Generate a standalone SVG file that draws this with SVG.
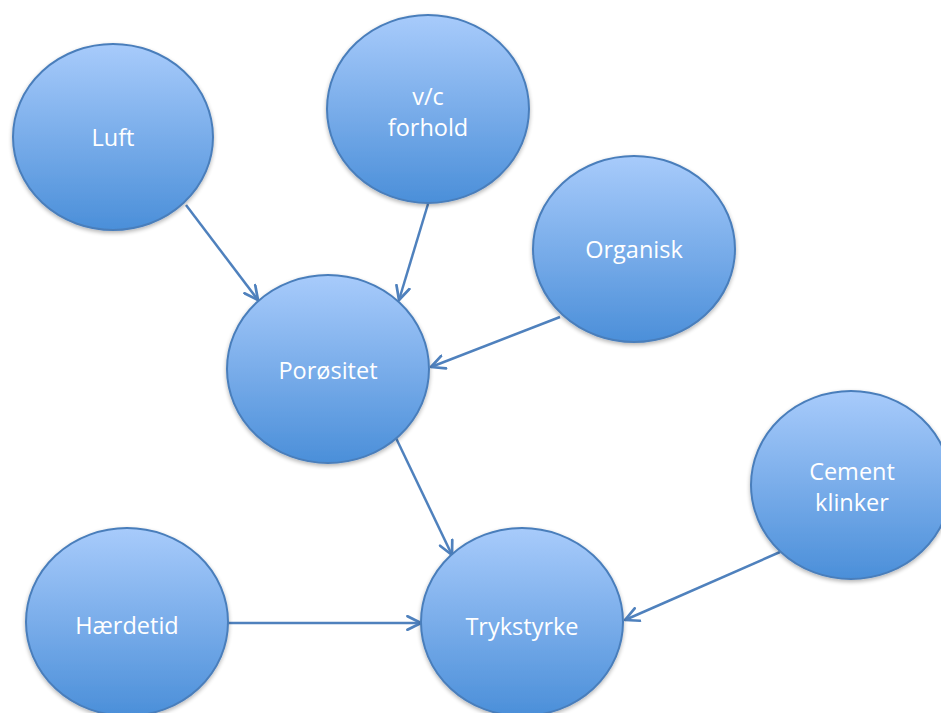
<svg xmlns="http://www.w3.org/2000/svg" width="941" height="713" viewBox="0 0 941 713">
<defs>
<linearGradient id="g" x1="0" y1="0" x2="0" y2="1">
<stop offset="0" stop-color="#a8cbfb"/>
<stop offset="1" stop-color="#4b8fd9"/>
</linearGradient>
<filter id="sh" x="-10%" y="-10%" width="120%" height="125%">
<feGaussianBlur in="SourceAlpha" stdDeviation="2"/>
<feOffset dx="0" dy="2" result="b"/>
<feComponentTransfer><feFuncA type="linear" slope="0.3"/></feComponentTransfer>
<feMerge><feMergeNode/><feMergeNode in="SourceGraphic"/></feMerge>
</filter>
<marker id="arr" viewBox="0 0 12 12" refX="11" refY="6" markerWidth="6.5" markerHeight="6.5" markerUnits="strokeWidth" orient="auto">
<path d="M1,1 L11,6 L1,11" fill="none" stroke="#4f81bd" stroke-width="2" stroke-linecap="round" stroke-linejoin="round"/>
</marker>
</defs>
<style>
.n ellipse{fill:url(#g);stroke:#4a7ebb;stroke-width:2;filter:url(#sh)}
.n text{fill:#ffffff;font-family:"Open Sans","Liberation Sans",sans-serif;font-size:23.5px;text-anchor:middle}
.c line{stroke:#4f81bd;stroke-width:2.5;marker-end:url(#arr)}
</style>
<rect width="941" height="713" fill="#ffffff"/>
<g class="c" id="connectors">
<line x1="186" y1="205" x2="258" y2="300"/>
<line x1="428" y1="204" x2="399" y2="300"/>
<line x1="560" y1="317" x2="431" y2="367"/>
<line x1="396" y1="438" x2="452" y2="555"/>
<line x1="228" y1="623" x2="421" y2="623"/>
<line x1="780" y1="552" x2="625" y2="620"/>
</g>
<g class="n" id="luft"><ellipse cx="113" cy="137" rx="100" ry="93"/><text x="113" y="146">Luft</text></g>
<g class="n" id="vc"><ellipse cx="428" cy="109" rx="101" ry="94"/><text x="428" y="105">v/c</text><text x="428" y="136">forhold</text></g>
<g class="n" id="organisk"><ellipse cx="634" cy="249" rx="101" ry="93"/><text x="634" y="258">Organisk</text></g>
<g class="n" id="porositet"><ellipse cx="328" cy="369" rx="101" ry="94"/><text x="328" y="379">Porøsitet</text></g>
<g class="n" id="cement"><ellipse cx="851" cy="485" rx="100" ry="94"/><text x="852" y="480">Cement</text><text x="852" y="511">klinker</text></g>
<g class="n" id="haerdetid"><ellipse cx="127" cy="622" rx="101" ry="94"/><text x="127" y="634">Hærdetid</text></g>
<g class="n" id="trykstyrke"><ellipse cx="522" cy="622" rx="101" ry="94"/><text x="522" y="635">Trykstyrke</text></g>
</svg>
